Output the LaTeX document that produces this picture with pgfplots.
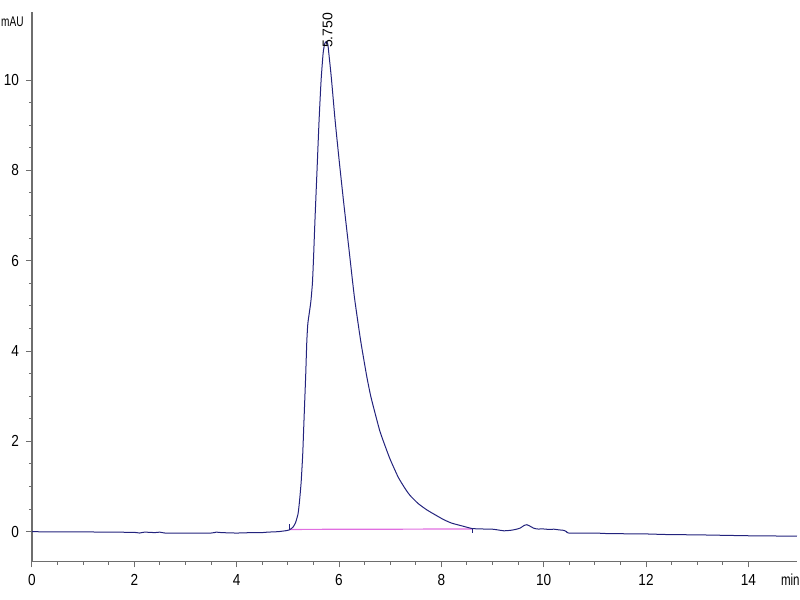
\documentclass[border=0pt]{standalone}
\usepackage{pgfplots}
\pgfplotsset{compat=1.18}
\usepackage{graphicx}
\usepackage{fontspec}
\setmainfont{Liberation Sans}
\definecolor{trace}{RGB}{35,35,125}
\definecolor{basecol}{RGB}{225,110,225}
\definecolor{axgray}{RGB}{110,110,110}
\begin{document}
\begin{tikzpicture}
\useasboundingbox (-16pt,-19.25pt) rectangle (384pt,280.75pt);
\begin{axis}[
  scale only axis, width=382.5pt, height=274.6pt,
  xmin=0, xmax=14.95, ymin=-0.66, ymax=11.5,
  axis lines*=left,
  axis line style={axgray, line width=0.6pt},
  xtick={0,2,...,14}, ytick={0,2,...,10}, minor tick num=3,
  tick align=outside, major tick length=3pt, minor tick length=1.6pt,
  tick style={axgray, line width=0.5pt},
  ticklabel style={font=\fontsize{8}{9}\selectfont},
  /pgf/number format/assume math mode=true,
  xticklabel={\scalebox{0.85}[1]{\pgfmathprintnumber{\tick}}},
  yticklabel={\scalebox{0.85}[1]{\pgfmathprintnumber{\tick}}},
  clip=false,
]
% integration baseline
\addplot[basecol, line width=0.6pt] coordinates {(5.03,0.05) (8.6,0.06)};
\addplot[trace, line width=0.4pt] coordinates {(5.03,0.04) (5.03,0.18)};
\addplot[trace, line width=0.4pt] coordinates {(8.6,0.06) (8.6,-0.04)};
% chromatogram trace
\addplot[trace, line width=0.5pt, smooth, tension=0.35] coordinates {
(0,0.0)(0.5,-0.005)(1,-0.005)(1.5,-0.01)(2,-0.015)(2.1,-0.03)(2.2,-0.01)(2.4,-0.02)(2.5,-0.01)(2.6,-0.03)
(3,-0.03)(3.5,-0.03)(3.6,-0.01)(3.7,-0.02)(4,-0.03)(4.3,-0.02)(4.5,-0.02)(4.6,-0.01)(4.8,0.0)(4.95,0.02)(5.03,0.04)
(5.1,0.1)(5.15,0.2)(5.2,0.4)(5.23,0.7)(5.26,1.1)(5.29,1.7)(5.31,2.3)(5.33,2.9)(5.35,3.5)(5.37,4.2)(5.39,4.6)
(5.42,4.85)(5.45,5.1)(5.48,5.5)(5.5,6.0)(5.53,6.9)(5.57,8.0)(5.61,9.1)(5.65,10.0)(5.69,10.6)(5.72,10.8)(5.75,10.85)(5.78,10.8)
(5.80,10.6)(5.85,10.05)(5.92,9.15)(6.0,8.25)(6.09,7.3)(6.2,6.2)(6.3,5.2)(6.42,4.25)(6.54,3.45)(6.62,3.0)(6.71,2.6)
(6.8,2.22)(6.9,1.9)(7.0,1.6)(7.16,1.2)(7.3,0.94)(7.39,0.8)(7.55,0.62)(7.72,0.48)(7.9,0.36)(8.04,0.27)(8.2,0.19)
(8.43,0.12)(8.6,0.07)(8.8,0.06)(9.0,0.055)(9.1,0.04)(9.22,0.02)(9.35,0.03)(9.45,0.05)(9.54,0.08)(9.62,0.14)
(9.67,0.155)(9.72,0.13)(9.8,0.08)(9.87,0.06)(10.0,0.06)(10.1,0.05)(10.2,0.055)(10.3,0.04)(10.39,0.03)(10.45,0.0)
(10.49,-0.03)(11,-0.03)(11.2,-0.04)(11.5,-0.045)(12,-0.05)(12.3,-0.06)(12.5,-0.065)(13,-0.07)(13.5,-0.08)
(14,-0.09)(14.5,-0.095)(14.95,-0.10)};
\node[anchor=east, font=\fontsize{7}{8}\selectfont, inner sep=0pt] at (axis cs:0,11.3) [xshift=-4pt] {\scalebox{0.72}[1]{mAU}};
\node[anchor=west, font=\fontsize{8}{9}\selectfont, inner sep=0pt] at (axis cs:14.63,-0.66) [yshift=-9.25pt] {\scalebox{0.72}[1]{min}};
\node[rotate=90, font=\fontsize{7}{8}\selectfont, inner sep=0pt] at (axis cs:5.775,11.1) {5.750};
\end{axis}
\end{tikzpicture}
\end{document}
